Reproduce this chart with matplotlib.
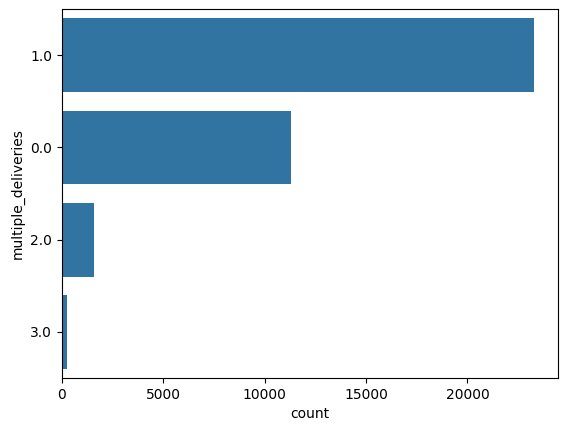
import matplotlib
matplotlib.use("Agg")
import matplotlib.pyplot as plt
import seaborn as sns

categories = ["1.0", "0.0", "2.0", "3.0"]
counts = [23300, 11300, 1600, 260]

fig, ax = plt.subplots(figsize=(5.67, 4.32), dpi=100)
fig.subplots_adjust(left=0.109, right=0.984, top=0.979, bottom=0.125)
sns.barplot(x=counts, y=categories, color="#1f77b4", saturation=0.75, ax=ax, orient="h")
ax.set_xlabel("count")
ax.set_ylabel("multiple_deliveries")
fig.savefig("out.png", dpi=100)
